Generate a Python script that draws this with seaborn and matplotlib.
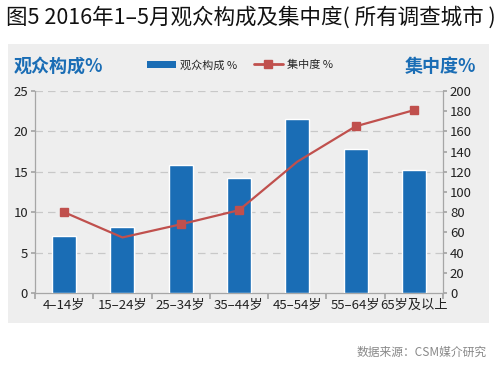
import matplotlib
matplotlib.use("Agg")
import matplotlib.pyplot as plt
import seaborn as sns
from matplotlib.patches import Rectangle, Patch
from matplotlib.lines import Line2D

# --- Data ---
age_groups = ["4–14岁", "15–24岁", "25–34岁", "35–44岁", "45–54岁", "55–64岁", "65岁及以上"]
audience_pct = [7.1, 8.2, 15.8, 14.2, 21.5, 17.8, 15.2]
concentration = [80, 55, 68, 82, 130, 165, 181]

BAR_COLOR = "#1a6db5"
LINE_COLOR = "#c0504d"
PANEL_COLOR = "#eeeeee"
AXIS_GRAY = "#a6a6a6"

sns.set_theme(style="white")
plt.rcParams["font.family"] = ["Noto Sans CJK SC", "DejaVu Sans"]
plt.rcParams["axes.unicode_minus"] = False

fig = plt.figure(figsize=(5, 3.75), dpi=100)
fig.patch.set_facecolor("white")

# gray panel behind the chart
fig.patches.append(Rectangle((8 / 500, 1 - 323 / 375), 481 / 500, 279 / 375,
                             transform=fig.transFigure, facecolor=PANEL_COLOR,
                             edgecolor="none", zorder=-10))

ax = fig.add_axes([35 / 500, 1 - 293 / 375, 408 / 500, 202 / 375])
ax.set_facecolor("none")
ax.set_zorder(2)

sns.barplot(x=age_groups, y=audience_pct, color=BAR_COLOR, width=0.41,
            saturation=1, ax=ax, zorder=3)
ax.set_ylim(0, 25)
ax.set_yticks(range(0, 26, 5))
ax.set_xlim(-0.5, 6.5)
ax.set_xlabel("")
ax.set_ylabel("")
for y in range(5, 26, 5):
    ax.axhline(y, color="#c8c8c8", lw=0.9, ls=(0, (6, 4)), zorder=1)

for side in ["top", "right"]:
    ax.spines[side].set_visible(False)
for side in ["left", "bottom"]:
    ax.spines[side].set_color(AXIS_GRAY)
    ax.spines[side].set_linewidth(0.9)

# x ticks at category boundaries, labels centered
ax.set_xticks([i + 0.5 for i in range(-1, 7)], minor=False)
ax.set_xticklabels([])
ax.set_xticks(range(7), minor=True)
ax.set_xticklabels(age_groups, minor=True, fontsize=9.5, color="#222222")
ax.tick_params(axis="x", which="major", length=4, color=AXIS_GRAY, direction="out", bottom=True)
ax.tick_params(axis="x", which="minor", length=0, pad=4)
ax.tick_params(axis="y", length=3, color=AXIS_GRAY, direction="out", left=True,
               labelsize=9.5, labelcolor="#222222", pad=2)

ax2 = ax.twinx()
ax2.set_zorder(3)
ax2.set_facecolor("none")
ax2.plot(range(7), concentration, color=LINE_COLOR, lw=1.6,
         marker="s", markersize=5.5, markevery=[0, 2, 3, 5, 6], zorder=5)
ax2.set_ylim(0, 200)
ax2.set_yticks(range(0, 201, 20))
for side in ["top", "left", "bottom"]:
    ax2.spines[side].set_visible(False)
ax2.spines["right"].set_color(AXIS_GRAY)
ax2.spines["right"].set_linewidth(0.9)
ax2.tick_params(axis="y", length=3, color=AXIS_GRAY, direction="out", right=True,
                labelsize=9.5, labelcolor="#222222", pad=2)
ax2.grid(False)

# titles and axis headers
fig.text(6 / 500, 1 - 17 / 375, "图5 2016年1–5月观众构成及集中度( 所有调查城市 )",
         fontsize=15.5, color="#111111", va="center", ha="left")
fig.text(14 / 500, 1 - 66 / 375, "观众构成%", fontsize=13, fontweight="bold",
         color=BAR_COLOR, va="center", ha="left")
fig.text(476 / 500, 1 - 66 / 375, "集中度%", fontsize=13, fontweight="bold",
         color=BAR_COLOR, va="center", ha="right")

handles = [Patch(facecolor=BAR_COLOR, edgecolor="none"),
           Line2D([0], [0], color=LINE_COLOR, lw=2, marker="s", markersize=5.5)]
fig.legend(handles, ["观众构成 %", "集中度 %"], loc="center", ncol=2,
           bbox_to_anchor=(240 / 500, 1 - 65 / 375), frameon=False,
           fontsize=8, handlelength=2.6, columnspacing=1.5, handletextpad=0.4)

fig.text(487 / 500, 1 - 352 / 375, "数据来源：CSM媒介研究", fontsize=8.5,
         color="#888888", va="center", ha="right")

fig.savefig("out.png", dpi=100)
